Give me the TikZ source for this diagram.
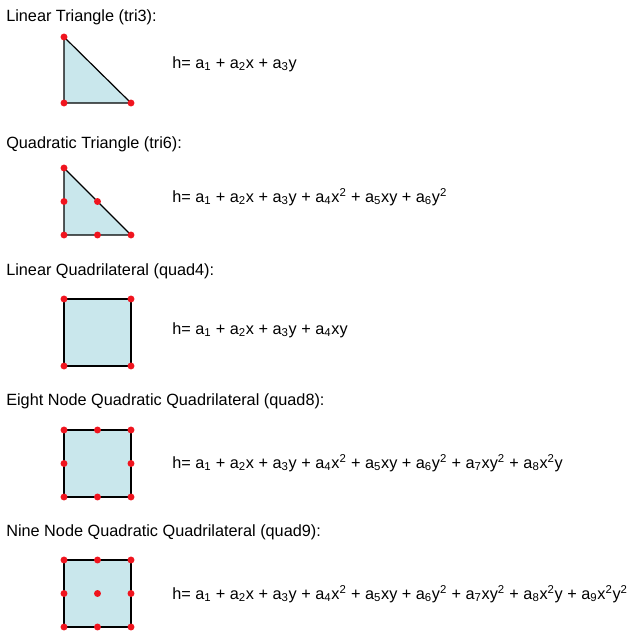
\documentclass[tikz,border=0pt]{standalone}
\usepackage{fontspec}
\setmainfont{Liberation Sans}
\usetikzlibrary{calc}
\newcommand{\sbs}[1]{\textsubscript{#1}}
\newcommand{\sps}[1]{\textsuperscript{#1}}
\definecolor{elfill}{RGB}{201,231,236}
\definecolor{nodered}{RGB}{240,20,30}
\begin{document}
\begin{tikzpicture}[x=0.75pt,y=-0.75pt,
  elem/.style={draw=black,line width=0.9pt,fill=elfill,line join=miter},
  nd/.style={circle,fill=nodered,inner sep=0pt,minimum size=5.2pt},
  ttl/.style={anchor=west,inner sep=0pt,font=\fontsize{12.2}{14}\selectfont},
  frm/.style={anchor=west,inner sep=0pt,font=\fontsize{12.2}{14}\selectfont}]
\useasboundingbox (0,0) rectangle (633,635);
% tri3
\node[ttl] (t1) at (6,17) {Linear Triangle (tri3):};
\coordinate (a1) at (64,37); \coordinate (b1) at (64,103); \coordinate (c1) at (131,103);
\draw[elem] (a1) -- (b1) -- (c1) -- cycle;
\foreach \p in {a1,b1,c1} \node[nd] at (\p) {};
\node[frm] (f1) at (172,64) {h= a\sbs{1} + a\sbs{2}x + a\sbs{3}y};
% tri6
\node[ttl] (t2) at (6,144) {Quadratic Triangle (tri6):};
\coordinate (a2) at (64,168); \coordinate (b2) at (64,235); \coordinate (c2) at (131,235);
\draw[elem] (a2) -- (b2) -- (c2) -- cycle;
\foreach \p in {a2,b2,c2} \node[nd] at (\p) {};
\node[nd] at ($(a2)!0.5!(b2)$) {};
\node[nd] at ($(b2)!0.5!(c2)$) {};
\node[nd] at ($(a2)!0.5!(c2)$) {};
\node[frm] (f2) at (172,197) {h= a\sbs{1} + a\sbs{2}x + a\sbs{3}y + a\sbs{4}x\sps{2} + a\sbs{5}xy + a\sbs{6}y\sps{2}};
% quad4
\node[ttl] (t3) at (6,271) {Linear Quadrilateral (quad4):};
\draw[elem] (64,299) rectangle (131,366);
\foreach \x/\y in {64/299,131/299,64/366,131/366} \node[nd] at (\x,\y) {};
\node[frm] (f3) at (172,330) {h= a\sbs{1} + a\sbs{2}x + a\sbs{3}y + a\sbs{4}xy};
% quad8
\node[ttl] (t4) at (6,401) {Eight Node Quadratic Quadrilateral (quad8):};
\draw[elem] (64,430) rectangle (131,497);
\foreach \x/\y in {64/430,97.5/430,131/430,64/463.5,131/463.5,64/497,97.5/497,131/497} \node[nd] at (\x,\y) {};
\node[frm] (f4) at (172,463) {h= a\sbs{1} + a\sbs{2}x + a\sbs{3}y + a\sbs{4}x\sps{2} + a\sbs{5}xy + a\sbs{6}y\sps{2} + a\sbs{7}xy\sps{2} + a\sbs{8}x\sps{2}y};
% quad9
\node[ttl] (t5) at (6,532) {Nine Node Quadratic Quadrilateral (quad9):};
\draw[elem] (64,560) rectangle (131,627);
\foreach \x/\y in {64/560,97.5/560,131/560,64/593.5,97.5/593.5,131/593.5,64/627,97.5/627,131/627} \node[nd] at (\x,\y) {};
\node[frm] (f5) at (172,594) {h= a\sbs{1} + a\sbs{2}x + a\sbs{3}y + a\sbs{4}x\sps{2} + a\sbs{5}xy + a\sbs{6}y\sps{2} + a\sbs{7}xy\sps{2} + a\sbs{8}x\sps{2}y + a\sbs{9}x\sps{2}y\sps{2}};
\end{tikzpicture}
\end{document}
